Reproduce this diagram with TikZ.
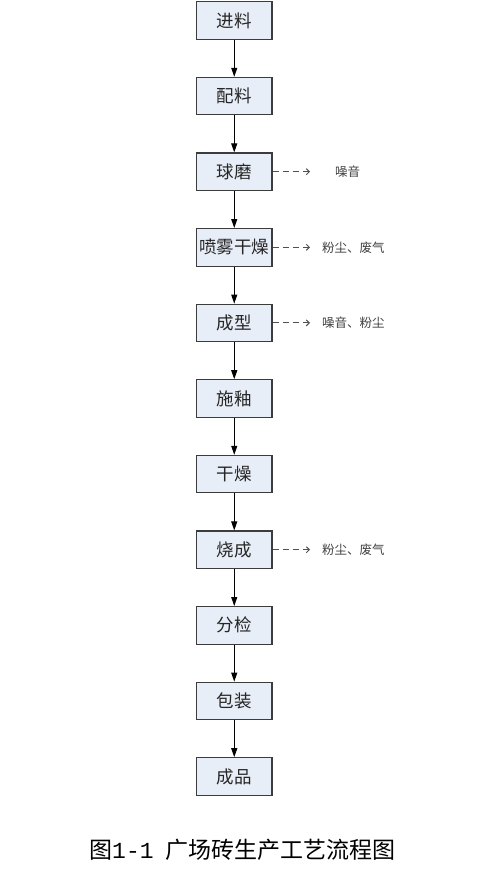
\documentclass[tikz,border=0pt]{standalone}
\usepackage{fontspec}
\newfontfamily\cjk{Noto Sans CJK SC}
\newfontfamily\monof{Liberation Mono}
\usetikzlibrary{arrows.meta}
\definecolor{boxfill}{RGB}{232,238,247}
\definecolor{boxline}{RGB}{60,60,60}
\definecolor{dashgray}{RGB}{80,80,80}
\tikzset{
  stepbox/.style={draw=boxline, line width=1.1pt, fill=boxfill, minimum width=75.5pt, minimum height=37.5pt, inner sep=0pt, font=\cjk\fontsize{17.5}{17.5}\selectfont, text=black!85},
  flow/.style={-{Triangle[length=9pt,width=6pt]}, line width=1pt, black},
  emit/.style={-{Straight Barb[length=3pt,width=6pt]}, dashgray, line width=1pt, dash pattern=on 6pt off 4pt},
  note/.style={anchor=west, inner sep=0pt, font=\cjk\fontsize{12.5}{12.5}\selectfont, text=black!75}
}
\begin{document}
\begin{tikzpicture}[x=1pt,y=-1pt]
\useasboundingbox (0,0) rectangle (489,880);
\node[stepbox] (b1) at (234.25,20.5) {进料};
\node[stepbox] (b2) at (234.25,96.1) {配料};
\node[stepbox] (b3) at (234.25,171.7) {球磨};
\node[stepbox] (b4) at (234.25,247.3) {喷雾干燥};
\node[stepbox] (b5) at (234.25,322.9) {成型};
\node[stepbox] (b6) at (234.25,398.5) {施釉};
\node[stepbox] (b7) at (234.25,474.1) {干燥};
\node[stepbox] (b8) at (234.25,549.7) {烧成};
\node[stepbox] (b9) at (234.25,625.3) {分检};
\node[stepbox] (b10) at (234.25,700.9) {包装};
\node[stepbox] (b11) at (234.25,776.5) {成品};
\foreach \a/\b in {b1/b2,b2/b3,b3/b4,b4/b5,b5/b6,b6/b7,b7/b8,b8/b9,b9/b10,b10/b11}
  \draw[flow] (\a) -- (\b);
\coordinate (e3) at (310,171.7);
\coordinate (e4) at (310,247.3);
\coordinate (e5) at (310,322.9);
\coordinate (e8) at (310,549.7);
\draw[emit] (b3.east) -- (e3);
\draw[emit] (b4.east) -- (e4);
\draw[emit] (b5.east) -- (e5);
\draw[emit] (b8.east) -- (e8);
\node[note] (n3) at (335,171.7) {噪音};
\node[note] (n4) at (322,247.3) {粉尘、废气};
\node[note] (n5) at (322,322.9) {噪音、粉尘};
\node[note] (n8) at (322,549.7) {粉尘、废气};
\node[anchor=west, inner sep=0pt, font=\cjk\fontsize{23}{23}\selectfont] (cap) at (89,850) {图{\monof\fontsize{23}{23}\selectfont 1-1}\hspace{12pt}广场砖生产工艺流程图};
\end{tikzpicture}
\end{document}
